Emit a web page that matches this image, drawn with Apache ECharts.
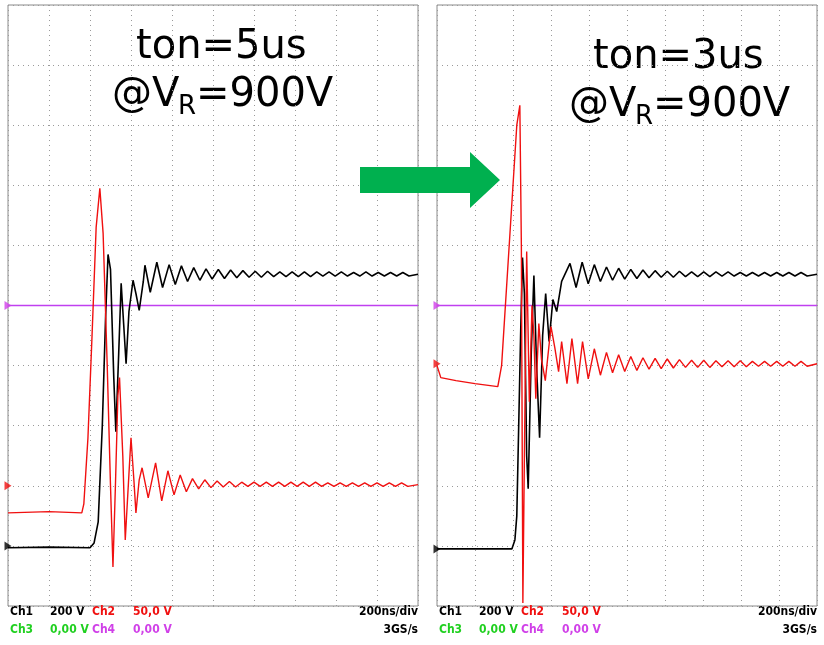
<!DOCTYPE html>
<html><head><meta charset="utf-8">
<script src="https://cdn.jsdelivr.net/npm/echarts@6/dist/echarts.min.js"></script>
<style>html,body{margin:0;padding:0;background:#fff}#c{width:824px;height:645px}</style>
</head><body><div id="c"></div>
<script>
// traces in divisions: [time div, volts div], 0 = screen center
var ch1Left = [[0,-4.03],[1,-4.02],[2.0,-4.03],[2.1,-3.95],[2.2,-3.6],[2.3,-2.0],[2.38,-0.2],[2.44,0.85],[2.5,0.6],[2.58,-1.2],[2.63,-2.1],[2.7,-0.8],[2.76,0.37],[2.82,-0.3],[2.88,-0.97],[2.95,-0.1],[3.05,0.42],[3.12,0.2],[3.2,-0.08],[3.3,0.4],[3.34,0.67],[3.47,0.22],[3.63,0.72],[3.77,0.3],[3.93,0.68],[4.08,0.35],[4.23,0.66],[4.38,0.4],[4.53,0.63],[4.68,0.42],[4.83,0.61],[4.98,0.44],[5.13,0.6],[5.28,0.45],[5.43,0.59],[5.58,0.46],[5.73,0.58],[5.88,0.47],[6.03,0.57],[6.18,0.47],[6.33,0.57],[6.48,0.48],[6.63,0.56],[6.78,0.48],[6.93,0.56],[7.08,0.48],[7.23,0.56],[7.38,0.48],[7.53,0.56],[7.68,0.49],[7.83,0.56],[7.98,0.49],[8.13,0.56],[8.28,0.49],[8.43,0.55],[8.58,0.49],[8.73,0.56],[8.88,0.49],[9.03,0.55],[9.18,0.49],[9.33,0.55],[9.48,0.49],[9.63,0.55],[9.78,0.49],[10,0.52]];
var ch2Left = [[0,-3.45],[1,-3.43],[1.8,-3.45],[1.85,-3.3],[1.95,-2.2],[2.05,-0.5],[2.15,1.3],[2.24,1.95],[2.32,1.2],[2.42,-1.0],[2.5,-3.0],[2.56,-4.35],[2.62,-3.0],[2.68,-1.5],[2.72,-1.2],[2.8,-2.5],[2.86,-3.9],[2.95,-2.8],[3.0,-2.2],[3.07,-2.9],[3.12,-3.45],[3.2,-2.9],[3.27,-2.7],[3.42,-3.2],[3.6,-2.62],[3.75,-3.25],[3.9,-2.75],[4.05,-3.15],[4.2,-2.82],[4.35,-3.1],[4.5,-2.88],[4.65,-3.05],[4.8,-2.9],[4.95,-3.03],[5.1,-2.92],[5.25,-3.02],[5.4,-2.93],[5.55,-3.02],[5.7,-2.94],[5.85,-3.01],[6.0,-2.94],[6.15,-3.01],[6.3,-2.94],[6.45,-3.01],[6.6,-2.94],[6.75,-3.01],[6.9,-2.94],[7.05,-3.01],[7.2,-2.94],[7.35,-3.01],[7.5,-2.94],[7.65,-3.01],[7.8,-2.95],[7.95,-3.01],[8.1,-2.95],[8.25,-3.01],[8.4,-2.95],[8.55,-3.01],[8.7,-2.95],[8.85,-3.01],[9.0,-2.95],[9.15,-3.01],[9.3,-2.95],[9.45,-3.01],[9.6,-2.95],[9.75,-3.01],[10,-2.98]];
var ch1Right = [[0,-4.05],[1.97,-4.05],[2.05,-3.9],[2.1,-3.5],[2.15,-2.0],[2.2,-0.5],[2.25,0.8],[2.3,0.2],[2.36,-2.5],[2.4,-3.05],[2.48,-0.8],[2.55,0.5],[2.62,-1.0],[2.7,-2.2],[2.78,-0.5],[2.86,0.2],[2.95,-0.6],[3.05,0.1],[3.15,-0.1],[3.28,0.4],[3.5,0.7],[3.66,0.3],[3.82,0.72],[3.98,0.36],[4.14,0.68],[4.3,0.4],[4.46,0.64],[4.62,0.42],[4.78,0.62],[4.94,0.44],[5.1,0.6],[5.26,0.45],[5.42,0.59],[5.58,0.46],[5.74,0.58],[5.9,0.47],[6.06,0.57],[6.22,0.47],[6.38,0.57],[6.54,0.48],[6.7,0.56],[6.86,0.48],[7.02,0.56],[7.18,0.48],[7.34,0.56],[7.5,0.49],[7.66,0.56],[7.82,0.49],[7.98,0.55],[8.14,0.49],[8.3,0.55],[8.46,0.49],[8.62,0.55],[8.78,0.49],[8.94,0.55],[9.1,0.49],[9.26,0.55],[9.42,0.49],[9.58,0.55],[9.74,0.49],[10,0.52]];
var ch2Right = [[0,-1.0],[0.1,-1.2],[0.5,-1.25],[1.0,-1.3],[1.6,-1.35],[1.7,-1.0],[1.85,0.5],[2.0,2.0],[2.1,3.0],[2.18,3.33],[2.22,1.0],[2.26,-4.95],[2.3,-2.5],[2.36,0.9],[2.43,-1.6],[2.5,0.0],[2.55,-0.5],[2.6,-1.55],[2.68,-0.3],[2.75,-0.9],[2.85,-1.25],[3.0,-0.35],[3.1,-0.7],[3.2,-1.1],[3.28,-0.6],[3.42,-1.3],[3.55,-0.55],[3.7,-1.3],[3.83,-0.6],[3.98,-1.22],[4.14,-0.72],[4.3,-1.16],[4.46,-0.78],[4.62,-1.12],[4.78,-0.82],[4.94,-1.1],[5.1,-0.85],[5.26,-1.08],[5.42,-0.87],[5.58,-1.06],[5.74,-0.88],[5.9,-1.05],[6.06,-0.89],[6.22,-1.04],[6.38,-0.9],[6.54,-1.03],[6.7,-0.91],[6.86,-1.03],[7.02,-0.91],[7.18,-1.03],[7.34,-0.92],[7.5,-1.02],[7.66,-0.92],[7.82,-1.02],[7.98,-0.92],[8.14,-1.02],[8.3,-0.93],[8.46,-1.01],[8.62,-0.93],[8.78,-1.01],[8.94,-0.93],[9.1,-1.01],[9.26,-0.93],[9.42,-1.01],[9.58,-0.93],[9.74,-1.01],[10,-0.97]];
// reference level markers (divisions)
var levelsLeft = {ch1: -4.0, ch2: -3.0, ch4: 0};
var levelsRight = {ch1: -4.05, ch2: -0.97, ch4: 0};

var chart = echarts.init(document.getElementById('c'));
var gridLine = {show: true, lineStyle: {color: '#9a9a9a', type: [1, 4], width: 1}};
function xAx(i) {
  return {type: 'value', gridIndex: i, min: 0, max: 10, interval: 1, axisLabel: {show: false},
    axisTick: {show: false}, axisLine: {show: false}, splitLine: gridLine};
}
function yAx(i) {
  return {type: 'value', gridIndex: i, min: -5, max: 5, interval: 1, axisLabel: {show: false},
    axisTick: {show: false}, axisLine: {show: false}, splitLine: gridLine};
}
function trace(i, data, color, w) {
  return {type: 'line', xAxisIndex: i, yAxisIndex: i, data: data, showSymbol: false,
    lineStyle: {color: color, width: w}, silent: true, z: color === '#000' ? 3 : 4};
}
function marker(i, v, color) {
  return {type: 'scatter', xAxisIndex: i, yAxisIndex: i, data: [[0, v]], symbol: 'triangle',
    symbolRotate: -90, symbolSize: [9, 7], itemStyle: {color: color}, clip: false, silent: true, z: 5};
}
var series = [];
[[ch1Left, ch2Left, levelsLeft], [ch1Right, ch2Right, levelsRight]].forEach(function (p, i) {
  series.push({type: 'line', xAxisIndex: i, yAxisIndex: i, data: [[0, p[2].ch4], [10, p[2].ch4]],
    showSymbol: false, itemStyle: {color: '#c040f0'}, lineStyle: {color: '#c040f0', width: 1.5}, z: 2, silent: true});
  series.push(trace(i, p[0], '#000', 1.6));
  series.push(trace(i, p[1], '#f01010', 1.4));
  series.push(marker(i, p[2].ch4, '#d040e8'));
  series.push(marker(i, p[2].ch2, '#f01010'));
  series.push(marker(i, p[2].ch1, '#000'));
});

var big = {fontFamily: 'DejaVu Sans', fontSize: 40, fill: '#000'};
var small = {fontFamily: "'Liberation Sans Narrow','DejaVu Sans Condensed',sans-serif", fontSize: 12, fontWeight: 'bold'};
function footer(x0, x1) {
  return [
    {type: 'text', left: x0, top: 606, style: Object.assign({text: 'Ch1', fill: '#000'}, small)},
    {type: 'text', left: x0 + 40, top: 606, style: Object.assign({text: '200 V', fill: '#000'}, small)},
    {type: 'text', left: x0 + 82, top: 606, style: Object.assign({text: 'Ch2', fill: '#f01010'}, small)},
    {type: 'text', left: x0 + 123, top: 606, style: Object.assign({text: '50,0 V', fill: '#f01010'}, small)},
    {type: 'text', left: x0, top: 624, style: Object.assign({text: 'Ch3', fill: '#20d020'}, small)},
    {type: 'text', left: x0 + 40, top: 624, style: Object.assign({text: '0,00 V', fill: '#20d020'}, small)},
    {type: 'text', left: x0 + 82, top: 624, style: Object.assign({text: 'Ch4', fill: '#d040e8'}, small)},
    {type: 'text', left: x0 + 123, top: 624, style: Object.assign({text: '0,00 V', fill: '#d040e8'}, small)},
    {type: 'text', right: 824 - x1, top: 606, style: Object.assign({text: '200ns/div', fill: '#000'}, small)},
    {type: 'text', right: 824 - x1, top: 624, style: Object.assign({text: '3GS/s', fill: '#000'}, small)}
  ];
}
function title(cx, y, t) {
  return [
    {type: 'text', left: cx - 86, top: y, style: Object.assign({text: t}, big)},
    {type: 'group', left: cx - 110, top: y + 48, children: [
      {type: 'text', left: 0, top: 0, style: Object.assign({text: '@V'}, big)},
      {type: 'text', left: 66, top: 18, style: {text: 'R', fontFamily: 'DejaVu Sans', fontSize: 26, fill: '#000'}},
      {type: 'text', left: 84, top: 0, style: Object.assign({text: '=900V'}, big)}
    ]}
  ];
}

chart.setOption({
  backgroundColor: '#fff',
  animation: false,
  grid: [
    {left: 8, top: 5, width: 410, height: 601, show: true, borderColor: '#8a8a8a', borderWidth: 1},
    {left: 437, top: 5, width: 380, height: 601, show: true, borderColor: '#8a8a8a', borderWidth: 1}
  ],
  xAxis: [xAx(0), xAx(1)],
  yAxis: [yAx(0), yAx(1)],
  series: series,
  graphic: [].concat(
    title(222, 28, 'ton=5us'),
    title(679, 38, 'ton=3us'),
    footer(10, 418),
    footer(439, 817),
    [{type: 'polygon', shape: {points: [[360, 167], [470, 167], [470, 152], [500, 180], [470, 208], [470, 193], [360, 193]]},
      style: {fill: '#00b04f'}, z: 10}]
  )
});
</script></body></html>
